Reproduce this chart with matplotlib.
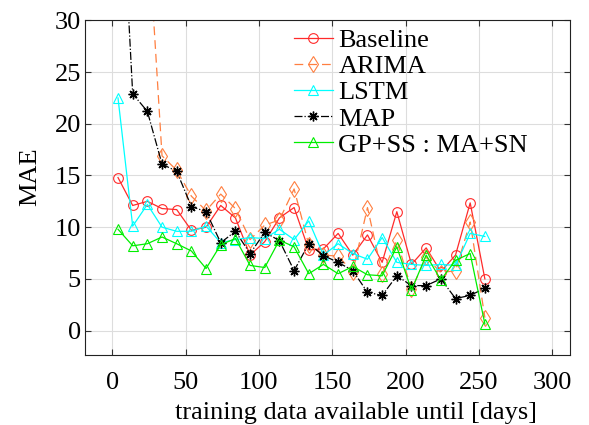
import numpy as np
import matplotlib
matplotlib.use("Agg")
import matplotlib.pyplot as plt

plt.rcParams['font.family'] = ['Liberation Serif', 'DejaVu Serif']

days = [4, 14, 24, 34, 44, 54, 64, 74, 84, 94, 104, 114, 124, 134, 144, 154, 164,
        174, 184, 194, 204, 214, 224, 234, 244, 254]

baseline = [14.8, 12.1, 12.5, 11.8, 11.7, 9.7, 10.0, 12.1, 10.9, 7.3, 8.6, 10.9, 11.9,
            7.8, 7.9, 9.4, 7.3, 9.25, 6.6, 11.5, 6.4, 8.0, 5.7, 7.3, 12.35, 5.0]
arima = [np.nan, np.nan, 40.0, 16.9, 15.5, 13.0, 11.6, 13.2, 11.8, 8.8, 10.2, 10.7, 13.7,
         8.3, 7.3, 7.2, 5.7, 11.9, 5.5, 8.75, 4.0, 7.1, 5.6, 5.8, 10.5, 1.25]
lstm = [22.5, 10.1, 12.2, 10.0, 9.6, 9.6, 10.1, 8.5, 8.8, 9.0, 8.9, 9.8, 8.8,
        10.6, 7.3, 8.4, 7.45, 6.9, 9.0, 6.6, 6.4, 6.3, 6.4, 6.3, 9.4, 9.1]
map_ = [50.0, 22.9, 21.2, 16.1, 15.4, 12.0, 11.5, 8.5, 9.6, 7.45, 9.5, 8.7, 5.8,
        8.4, 7.25, 6.6, 5.8, 3.7, 3.4, 5.3, 4.35, 4.35, 5.0, 3.1, 3.4, 4.1]
gpss = [9.8, 8.2, 8.4, 9.05, 8.4, 7.7, 6.0, 8.3, 8.9, 6.3, 6.1, 8.75, 8.1,
        5.5, 6.4, 5.5, 6.2, 5.4, 5.3, 8.1, 3.9, 7.3, 4.9, 6.8, 7.45, 0.65]

labels = ["Baseline", "ARIMA", "LSTM", "MAP", "GP+SS : MA+SN"]
xticks = [0, 50, 100, 150, 200, 250, 300]
yticks = [0, 5, 10, 15, 20, 25, 30]

fig = plt.figure(figsize=(5.89, 4.25), dpi=100)
ax = fig.add_axes([0.1443, 0.165, 0.8234, 0.787])

ms = 7
ax.plot(days, baseline, color='#ff2a2a', lw=0.9, marker='o', ms=ms, mfc='none',
        mew=0.8, label=labels[0])
ax.plot(days, arima, color='#ff7f40', lw=0.9, ls=(0, (7, 4)), marker='d', ms=ms + 1,
        mfc='none', mew=0.8, label=labels[1])
ax.plot(days, lstm, color='#00ffff', lw=0.9, marker='^', ms=ms, mfc='none',
        mew=0.8, label=labels[2])
ax.plot(days, map_, color='black', lw=0.9, ls='-.', marker=(8, 2, 0), ms=7,
        mfc='black', mew=1.0, label=labels[3])
ax.plot(days, gpss, color='#00ee00', lw=0.9, marker='^', ms=ms, mfc='none',
        mew=0.8, label=labels[4])

ax.set_xlim(-18.5, 312)
ax.set_ylim(-2.35, 30)
ax.set_xticks(xticks)
ax.set_yticks(yticks)
ax.grid(True, color='#dddddd', lw=0.8)
ax.set_axisbelow(True)
ax.tick_params(direction='in', top=True, right=True, length=4, labelsize=19,
               color='#333333')
ax.tick_params(axis='x', pad=12.5)
ax.tick_params(axis='y', pad=3)
for s in ax.spines.values():
    s.set_linewidth(0.8)
    s.set_color('#222222')

ax.set_xlabel("training data available until [days]", fontsize=19)
ax.set_ylabel("MAE", fontsize=19)
ax.xaxis.set_label_coords(0.559, -0.142)
ax.yaxis.set_label_coords(-0.09, 0.533)

leg = ax.legend(loc='upper left', bbox_to_anchor=(0.43, 0.975), frameon=False,
                fontsize=19, handlelength=1.5, handletextpad=0.2, labelspacing=0.1,
                borderaxespad=0, borderpad=0)

fig.savefig("out.png", dpi=100)
